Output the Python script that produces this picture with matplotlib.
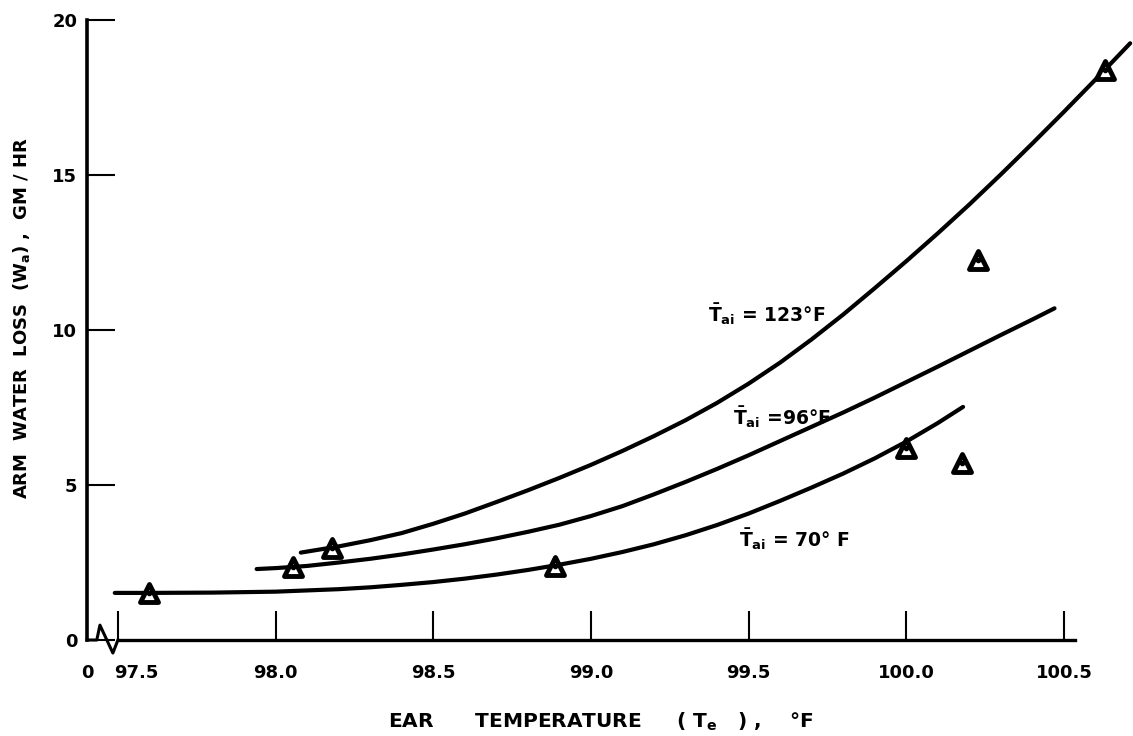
import matplotlib
matplotlib.use('Agg')
import matplotlib.pyplot as plt
from matplotlib.markers import MarkerStyle
from matplotlib.transforms import ScaledTranslation

plt.rcParams['font.family'] = ['DejaVu Sans']
plt.rcParams['font.weight'] = 'bold'
plt.rcParams['mathtext.default'] = 'bf'

# curves (ear temperature F, arm water loss gm/hr)
t123_x = [98.08, 98.2, 98.3, 98.4, 98.5, 98.6, 98.7, 98.8, 98.9, 99.0, 99.1, 99.2, 99.3,
          99.4, 99.5, 99.6, 99.7, 99.8, 99.9, 100.0, 100.1, 100.2, 100.3, 100.4, 100.5,
          100.6, 100.71]
t123_y = [2.82, 3.02, 3.22, 3.45, 3.75, 4.08, 4.45, 4.83, 5.23, 5.65, 6.10, 6.58, 7.09,
          7.65, 8.27, 8.95, 9.70, 10.50, 11.35, 12.22, 13.12, 14.05, 15.02, 16.02, 17.04,
          18.08, 19.25]

t96_x = [97.94, 98.0, 98.1, 98.2, 98.3, 98.4, 98.5, 98.6, 98.7, 98.8, 98.9, 99.0, 99.1,
         99.2, 99.3, 99.4, 99.5, 99.6, 99.7, 99.8, 99.9, 100.0, 100.1, 100.2, 100.3,
         100.4, 100.47]
t96_y = [2.29, 2.32, 2.39, 2.50, 2.62, 2.76, 2.92, 3.09, 3.28, 3.49, 3.72, 4.00, 4.32,
         4.70, 5.10, 5.52, 5.96, 6.42, 6.88, 7.34, 7.82, 8.32, 8.82, 9.33, 9.84,
         10.34, 10.70]

t70_x = [97.49, 97.6, 97.8, 98.0, 98.2, 98.3, 98.4, 98.5, 98.6, 98.7, 98.8, 98.9, 99.0,
         99.1, 99.2, 99.3, 99.4, 99.5, 99.6, 99.7, 99.8, 99.9, 100.0, 100.1, 100.18]
t70_y = [1.52, 1.52, 1.53, 1.56, 1.64, 1.70, 1.78, 1.87, 1.98, 2.11, 2.26, 2.43, 2.62,
         2.84, 3.09, 3.38, 3.71, 4.08, 4.49, 4.92, 5.37, 5.86, 6.40, 7.00, 7.52]

# measured points
pts_x = [97.60, 98.055, 98.18, 98.885, 100.0, 100.177, 100.228, 100.63]
pts_y = [1.52, 2.37, 2.97, 2.40, 6.20, 5.71, 12.26, 18.40]

xticks = [97.402, 97.5, 98.0, 98.5, 99.0, 99.5, 100.0, 100.5]
xticklabels = ['0', '97.5', '98.0', '98.5', '99.0', '99.5', '100.0', '100.5']
yticks = [0, 5, 10, 15, 20]

fig = plt.figure(figsize=(11.33, 7.36), dpi=100)
ax = fig.add_axes([0.0768, 0.1304, 0.8720, 0.8424])

for cx, cy in [(t123_x, t123_y), (t96_x, t96_y), (t70_x, t70_y)]:
    ax.plot(cx, cy, color='black', lw=3.0, solid_capstyle='round', clip_on=False, zorder=3)

tri = MarkerStyle('^', joinstyle='round')
ax.plot(pts_x, pts_y, ls='none', marker=tri, ms=13, mfc='white', mec='black',
        mew=3.5, clip_on=False, zorder=4)
ax.plot(pts_x, pts_y, ls='none', marker='o', ms=3, color='black', clip_on=False, zorder=5)

# curve labels
ax.text(99.37, 10.5, r'$\bar{T}_{ai}$ = 123°F', fontsize=13.5, va='center', ha='left')
ax.text(99.45, 7.2, r'$\bar{T}_{ai}$ =96°F', fontsize=13.5, va='center', ha='left')
ax.text(99.47, 3.25, r'$\bar{T}_{ai}$ = 70° F', fontsize=13.5, va='center', ha='left')

ax.set_xlim(97.402, 100.535)
ax.set_ylim(0, 20)

# axes
ax.spines['top'].set_visible(False)
ax.spines['right'].set_visible(False)
ax.spines['left'].set_linewidth(2.6)
ax.spines['bottom'].set_linewidth(2.4)
ax.spines['bottom'].set_bounds(97.5, 100.535)

# axis break near the origin
brk_x = [97.402, 97.433, 97.443, 97.484, 97.5]
brk_y = [0, 0, 0.48, -0.42, 0]
ax.plot(brk_x, brk_y, color='black', lw=2.2, clip_on=False, zorder=6)

ax.set_xticks(xticks)
ax.set_xticklabels(xticklabels)
ax.set_yticks(yticks)
ax.tick_params(axis='x', direction='in', length=21, width=1.5, pad=17, labelsize=13)
ax.tick_params(axis='y', direction='in', length=20, width=1.5, pad=7, labelsize=13)
ax.xaxis.get_major_ticks()[0].tick1line.set_visible(False)

lbl = ax.get_xticklabels()[1]
lbl.set_transform(lbl.get_transform() + ScaledTranslation(0.18, 0, fig.dpi_scale_trans))

fig.text(601 / 1133, 1 - 722 / 736, r'EAR      TEMPERATURE     ( $T_e$   ) ,    °F',
         fontsize=14.5, ha='center', va='center')
fig.text(22 / 1133, 1 - 318 / 736, r'ARM  WATER  LOSS  ($W_a$) ,  GM / HR',
         fontsize=13, ha='center', va='center', rotation=90)

plt.savefig('out.png', dpi=100)
